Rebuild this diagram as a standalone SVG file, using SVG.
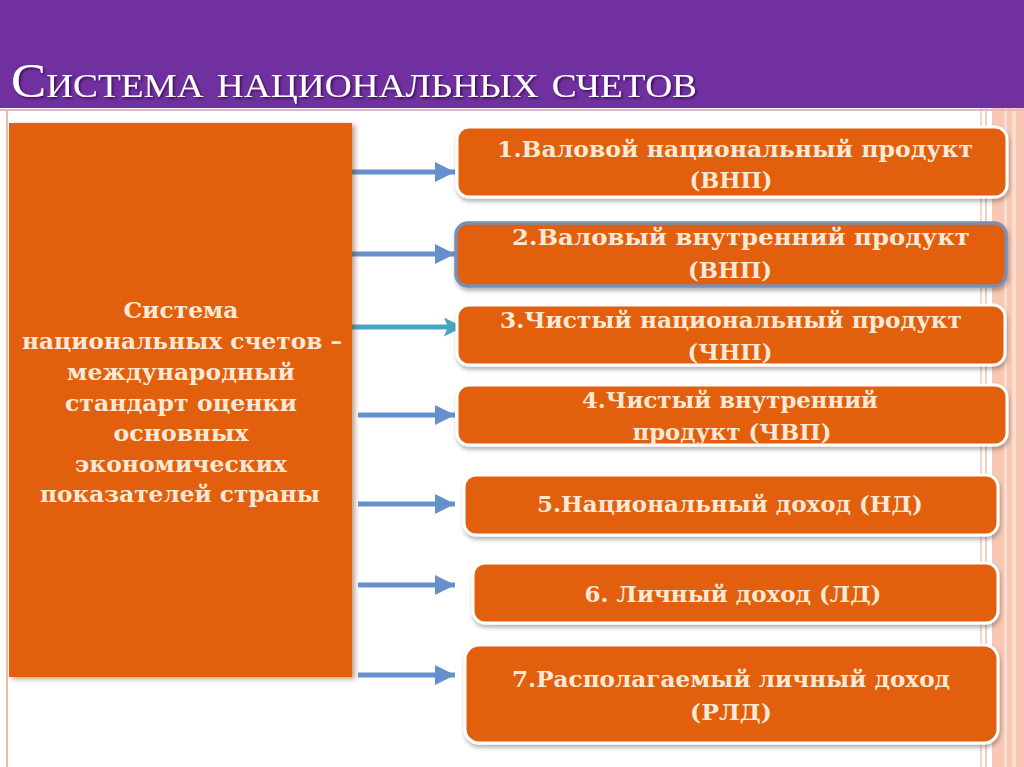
<svg xmlns="http://www.w3.org/2000/svg" width="1024" height="767" viewBox="0 0 1024 767">
<defs>
<filter id="sh" x="-10%" y="-20%" width="120%" height="150%">
<feDropShadow dx="1" dy="3" stdDeviation="2" flood-color="#000" flood-opacity="0.3"/>
</filter>
<filter id="sh2" x="-10%" y="-10%" width="120%" height="120%">
<feDropShadow dx="3" dy="2" stdDeviation="2.5" flood-color="#6a2a00" flood-opacity="0.45"/>
</filter>
<filter id="tsh" x="-5%" y="-20%" width="110%" height="150%">
<feDropShadow dx="1.5" dy="1.5" stdDeviation="0.8" flood-color="#2a0040" flood-opacity="0.8"/>
</filter>
<marker id="ah" viewBox="0 0 10 10" refX="10" refY="5" markerWidth="4.2" markerHeight="4" orient="auto" markerUnits="strokeWidth">
<path d="M0,0 L10,5 L0,10 z" fill="#6690cb"/>
</marker>
<marker id="ah3" viewBox="0 0 10 10" refX="10" refY="5" markerWidth="4" markerHeight="3.8" orient="auto" markerUnits="strokeWidth">
<path d="M0,0 L10,5 L0,10 L2,5 z" fill="#4aa5c2"/>
</marker>
</defs>
<style>
.box{fill:#e25e0a;stroke:#ffffff;stroke-width:3;filter:url(#sh)}
.lbl{font-family:"DejaVu Serif","Liberation Serif",serif;font-weight:bold;font-size:23px;fill:#f9e9d6;text-anchor:middle}
.arr{stroke:#6690cb;stroke-width:5;fill:none;marker-end:url(#ah)}
</style>
<rect x="0" y="0" width="1024" height="767" fill="#ffffff"/>
<!-- right decorative stripes -->
<rect x="980" y="108" width="2" height="659" fill="#f5d6cc"/>
<rect x="985" y="108" width="2" height="659" fill="#f3cfc2"/>
<rect x="992" y="108" width="32" height="659" fill="#f8c8b4"/>
<rect x="1004" y="108" width="3" height="659" fill="#fbdccf"/>
<rect x="1012" y="108" width="4" height="659" fill="#fbdccf"/>
<!-- left line -->
<rect x="6" y="110" width="2" height="657" fill="#f2b8a8"/>
<rect x="0" y="109" width="1024" height="2" fill="#ebb3d3"/>
<!-- header -->
<rect x="0" y="0" width="1024" height="108" fill="#7030a0"/>
<text x="11" y="97" font-family="Liberation Serif, serif" font-size="48" font-variant="small-caps" fill="#ffffff" filter="url(#tsh)" textLength="686" lengthAdjust="spacingAndGlyphs">Система национальных счетов</text>

<g id="connectors">
<line class="arr" x1="350" y1="172" x2="455" y2="172"/>
<line class="arr" x1="350" y1="254" x2="455" y2="254"/>
<line x1="350" y1="327" x2="463" y2="327" stroke="#4aa5c2" stroke-width="5" marker-end="url(#ah3)"/>
<line class="arr" x1="358" y1="415" x2="455" y2="415"/>
<line class="arr" x1="358" y1="504" x2="455" y2="504"/>
<line class="arr" x1="358" y1="585" x2="455" y2="585"/>
<line class="arr" x1="358" y1="675" x2="455" y2="675"/>
</g>

<g id="main">
<rect x="9" y="123" width="343" height="554" fill="#e25f0c" filter="url(#sh2)"/>
<text class="lbl" x="181" y="318" textLength="115" lengthAdjust="spacingAndGlyphs">Система</text>
<text class="lbl" x="182" y="349" textLength="320" lengthAdjust="spacingAndGlyphs">национальных счетов –</text>
<text class="lbl" x="181" y="380" textLength="228" lengthAdjust="spacingAndGlyphs">международный</text>
<text class="lbl" x="181" y="411" textLength="232" lengthAdjust="spacingAndGlyphs">стандарт оценки</text>
<text class="lbl" x="181" y="441" textLength="135" lengthAdjust="spacingAndGlyphs">основных</text>
<text class="lbl" x="181" y="472" textLength="212" lengthAdjust="spacingAndGlyphs">экономических</text>
<text class="lbl" x="180" y="502" textLength="280" lengthAdjust="spacingAndGlyphs">показателей страны</text>
</g>

<g id="n1">
<rect class="box" x="457" y="127" width="550" height="70" rx="12"/>
<text class="lbl" x="735" y="157" textLength="476" lengthAdjust="spacingAndGlyphs">1.Валовой национальный продукт</text>
<text class="lbl" x="731" y="188" textLength="83" lengthAdjust="spacingAndGlyphs">(ВНП)</text>
</g>
<g id="n2">
<rect x="456" y="223" width="550" height="63" rx="12" fill="#e25e0a" stroke="#7b8db0" stroke-width="3.5" filter="url(#sh)"/>
<text class="lbl" x="741" y="245" textLength="458" lengthAdjust="spacingAndGlyphs">2.Валовый внутренний продукт</text>
<text class="lbl" x="730" y="278" textLength="84" lengthAdjust="spacingAndGlyphs">(ВНП)</text>
</g>
<g id="n3">
<rect class="box" x="457" y="305" width="548" height="60" rx="12"/>
<text class="lbl" x="731" y="328" textLength="462" lengthAdjust="spacingAndGlyphs">3.Чистый национальный продукт</text>
<text class="lbl" x="730" y="360" textLength="85" lengthAdjust="spacingAndGlyphs">(ЧНП)</text>
</g>
<g id="n4">
<rect class="box" x="457" y="385" width="550" height="60" rx="12"/>
<text class="lbl" x="730" y="408" textLength="296" lengthAdjust="spacingAndGlyphs">4.Чистый внутренний</text>
<text class="lbl" x="732" y="440" textLength="199" lengthAdjust="spacingAndGlyphs">продукт (ЧВП)</text>
</g>
<g id="n5">
<rect class="box" x="464" y="475" width="534" height="60" rx="12"/>
<text class="lbl" x="730" y="512" textLength="386" lengthAdjust="spacingAndGlyphs">5.Национальный доход (НД)</text>
</g>
<g id="n6">
<rect class="box" x="473" y="563" width="525" height="60" rx="12"/>
<text class="lbl" x="733" y="602" textLength="297" lengthAdjust="spacingAndGlyphs">6. Личный доход (ЛД)</text>
</g>
<g id="n7">
<rect class="box" x="465" y="645" width="533" height="98" rx="14"/>
<text class="lbl" x="731" y="687" textLength="438" lengthAdjust="spacingAndGlyphs">7.Располагаемый личный доход</text>
<text class="lbl" x="731" y="720" textLength="82" lengthAdjust="spacingAndGlyphs">(РЛД)</text>
</g>
</svg>
